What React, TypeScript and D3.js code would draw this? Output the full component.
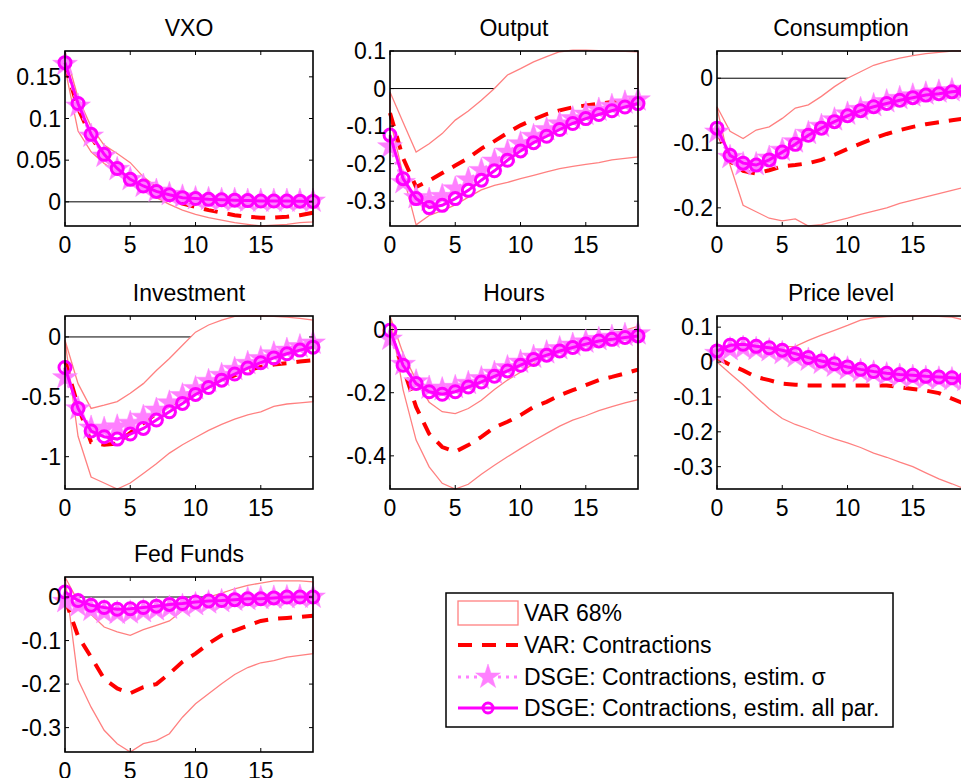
import * as d3 from "d3";

// horizon (quarters after the shock)
const horizon = [0, 1, 2, 3, 4, 5, 6, 7, 8, 9, 10, 11, 12, 13, 14, 15, 16, 17, 18, 19];
const xTicks = [0, 5, 10, 15];

// VXO
const vxoUpper = [0.181, 0.125, 0.09, 0.068, 0.058, 0.047, 0.03, 0.018, 0.01, 0.006, 0.004, 0.003, 0.003, 0.002, 0.002, 0.002, 0.002, 0.002, 0.002, 0.002];
const vxoLower = [0.16, 0.085, 0.06, 0.046, 0.036, 0.025, 0.015, 0.005, -0.003, -0.01, -0.015, -0.019, -0.022, -0.025, -0.027, -0.029, -0.028, -0.027, -0.025, -0.024];
const vxoVar = [0.165, 0.112, 0.078, 0.054, 0.038, 0.026, 0.016, 0.008, 0.002, -0.002, -0.006, -0.01, -0.013, -0.016, -0.018, -0.019, -0.019, -0.018, -0.016, -0.013];
const vxoSigma = [0.165, 0.115, 0.079, 0.055, 0.039, 0.027, 0.019, 0.013, 0.009, 0.006, 0.004, 0.003, 0.002, 0.002, 0.001, 0.001, 0.001, 0.001, 0.001, 0.001];
const vxoAll = [0.167, 0.118, 0.081, 0.057, 0.04, 0.027, 0.019, 0.0125, 0.0085, 0.005, 0.004, 0.003, 0.0025, 0.002, 0.0015, 0.001, 0.001, 0.001, 0.0008, 0.0005];

// Output
const outUpper = [-0.009, -0.09, -0.169, -0.147, -0.12, -0.084, -0.06, -0.031, 0.0, 0.036, 0.053, 0.071, 0.085, 0.098, 0.102, 0.102, 0.101, 0.1, 0.099, 0.098];
const outLower = [-0.08, -0.23, -0.363, -0.338, -0.325, -0.31, -0.289, -0.27, -0.258, -0.25, -0.24, -0.231, -0.222, -0.213, -0.207, -0.202, -0.197, -0.19, -0.186, -0.182];
const outVar = [-0.065, -0.185, -0.262, -0.245, -0.225, -0.205, -0.185, -0.16, -0.14, -0.118, -0.098, -0.082, -0.068, -0.058, -0.05, -0.045, -0.04, -0.036, -0.033, -0.03];
const outSigma = [-0.155, -0.25, -0.29, -0.297, -0.287, -0.267, -0.243, -0.218, -0.193, -0.169, -0.147, -0.127, -0.109, -0.094, -0.08, -0.068, -0.057, -0.047, -0.038, -0.03];
const outAll = [-0.124, -0.24, -0.293, -0.317, -0.311, -0.293, -0.271, -0.244, -0.219, -0.191, -0.166, -0.144, -0.127, -0.109, -0.093, -0.08, -0.069, -0.059, -0.049, -0.04];

// Consumption
const conUpper = [-0.044, -0.082, -0.093, -0.08, -0.075, -0.062, -0.046, -0.041, -0.028, -0.013, 0.0, 0.01, 0.02, 0.026, 0.031, 0.035, 0.038, 0.04, 0.042, 0.042];
const conLower = [-0.046, -0.134, -0.196, -0.206, -0.216, -0.22, -0.217, -0.228, -0.226, -0.221, -0.216, -0.21, -0.205, -0.2, -0.193, -0.188, -0.183, -0.178, -0.173, -0.168];
const conVar = [-0.08, -0.128, -0.143, -0.147, -0.142, -0.136, -0.134, -0.131, -0.126, -0.118, -0.109, -0.101, -0.093, -0.086, -0.08, -0.075, -0.071, -0.068, -0.065, -0.062];
const conSigma = [-0.083, -0.122, -0.133, -0.133, -0.123, -0.111, -0.098, -0.085, -0.074, -0.064, -0.055, -0.048, -0.042, -0.036, -0.031, -0.027, -0.024, -0.021, -0.019, -0.017];
const conAll = [-0.077, -0.119, -0.131, -0.134, -0.126, -0.114, -0.102, -0.088, -0.077, -0.067, -0.058, -0.05, -0.044, -0.039, -0.034, -0.03, -0.026, -0.024, -0.021, -0.019];

// Investment
const invUpper = [-0.028, -0.39, -0.597, -0.57, -0.54, -0.47, -0.39, -0.28, -0.18, -0.07, 0.04, 0.1, 0.14, 0.172, 0.175, 0.175, 0.172, 0.165, 0.155, 0.14];
const invLower = [-0.03, -0.83, -1.17, -1.22, -1.27, -1.22, -1.14, -1.06, -0.97, -0.9, -0.84, -0.78, -0.73, -0.686, -0.65, -0.625, -0.58, -0.56, -0.55, -0.54];
const invVar = [-0.2, -0.58, -0.88, -0.9, -0.89, -0.8, -0.72, -0.64, -0.57, -0.51, -0.46, -0.41, -0.36, -0.32, -0.28, -0.25, -0.23, -0.22, -0.205, -0.195];
const invSigma = [-0.34, -0.6, -0.76, -0.77, -0.75, -0.72, -0.67, -0.61, -0.55, -0.49, -0.43, -0.37, -0.32, -0.27, -0.22, -0.18, -0.14, -0.11, -0.08, -0.05];
const invAll = [-0.255, -0.597, -0.786, -0.833, -0.853, -0.811, -0.764, -0.694, -0.625, -0.555, -0.48, -0.422, -0.361, -0.31, -0.26, -0.215, -0.175, -0.14, -0.11, -0.085];

// Hours
const hrsUpper = [0.043, -0.076, -0.16, -0.23, -0.26, -0.266, -0.25, -0.224, -0.19, -0.16, -0.135, -0.108, -0.085, -0.065, -0.05, -0.036, -0.023, -0.013, -0.002, 0.01];
const hrsLower = [0.043, -0.19, -0.35, -0.435, -0.487, -0.505, -0.49, -0.458, -0.43, -0.403, -0.377, -0.352, -0.329, -0.306, -0.287, -0.273, -0.257, -0.244, -0.232, -0.222];
const hrsVar = [-0.01, -0.12, -0.245, -0.33, -0.372, -0.387, -0.366, -0.34, -0.31, -0.292, -0.271, -0.245, -0.229, -0.208, -0.192, -0.176, -0.16, -0.15, -0.139, -0.127];
const hrsSigma = [-0.03, -0.11, -0.165, -0.185, -0.19, -0.183, -0.17, -0.155, -0.138, -0.12, -0.103, -0.087, -0.073, -0.06, -0.049, -0.039, -0.031, -0.024, -0.018, -0.013];
const hrsAll = [-0.002, -0.113, -0.171, -0.197, -0.205, -0.197, -0.182, -0.166, -0.148, -0.131, -0.113, -0.095, -0.081, -0.068, -0.057, -0.046, -0.036, -0.031, -0.025, -0.02];

// Price level
const priUpper = [0.02, 0.035, 0.042, 0.044, 0.044, 0.044, 0.045, 0.062, 0.077, 0.091, 0.105, 0.12, 0.127, 0.13, 0.132, 0.132, 0.132, 0.131, 0.129, 0.12];
const priLower = [0.0, -0.033, -0.065, -0.1, -0.134, -0.162, -0.179, -0.192, -0.207, -0.22, -0.232, -0.245, -0.261, -0.273, -0.287, -0.3, -0.318, -0.335, -0.349, -0.364];
const priVar = [0.012, -0.008, -0.024, -0.043, -0.052, -0.062, -0.065, -0.067, -0.067, -0.067, -0.067, -0.067, -0.067, -0.067, -0.072, -0.077, -0.082, -0.089, -0.105, -0.12];
const priSigma = [0.025, 0.036, 0.04, 0.037, 0.033, 0.025, 0.016, 0.006, -0.003, -0.011, -0.019, -0.026, -0.031, -0.036, -0.04, -0.043, -0.046, -0.048, -0.05, -0.052];
const priAll = [0.032, 0.048, 0.051, 0.045, 0.041, 0.034, 0.024, 0.013, 0.003, -0.005, -0.014, -0.021, -0.027, -0.032, -0.036, -0.038, -0.041, -0.043, -0.045, -0.048];

// Fed Funds
const ffUpper = [0.046, -0.01, -0.04, -0.069, -0.08, -0.088, -0.075, -0.065, -0.055, -0.031, -0.012, 0.0, 0.009, 0.019, 0.027, 0.032, 0.037, 0.037, 0.037, 0.035];
const ffLower = [0.046, -0.19, -0.253, -0.306, -0.337, -0.356, -0.337, -0.33, -0.314, -0.276, -0.245, -0.222, -0.199, -0.178, -0.162, -0.151, -0.146, -0.138, -0.134, -0.13];
const ffVar = [-0.005, -0.09, -0.138, -0.188, -0.21, -0.221, -0.207, -0.2, -0.176, -0.149, -0.13, -0.107, -0.088, -0.077, -0.066, -0.055, -0.05, -0.048, -0.046, -0.043];
const ffSigma = [-0.01, -0.02, -0.03, -0.035, -0.037, -0.036, -0.033, -0.029, -0.025, -0.021, -0.017, -0.013, -0.01, -0.007, -0.005, -0.003, -0.002, -0.001, 0, 0];
const ffAll = [0.0115, -0.008, -0.019, -0.024, -0.028, -0.027, -0.024, -0.021, -0.017, -0.015, -0.0115, -0.009, -0.008, -0.006, -0.004, -0.004, -0.002, 0, 0, 0];

const legendLabels = [
  "VAR 68%",
  "VAR: Contractions",
  "DSGE: Contractions, estim. σ",
  "DSGE: Contractions, estim. all par.",
];

const panels = [
  { title: "VXO", upper: vxoUpper, lower: vxoLower, med: vxoVar, sigma: vxoSigma, all: vxoAll, yDomain: [-0.029, 0.181], yTicks: [0, 0.05, 0.1, 0.15], col: 0, row: 0 },
  { title: "Output", upper: outUpper, lower: outLower, med: outVar, sigma: outSigma, all: outAll, yDomain: [-0.366, 0.1], yTicks: [-0.3, -0.2, -0.1, 0, 0.1], col: 1, row: 0 },
  { title: "Consumption", upper: conUpper, lower: conLower, med: conVar, sigma: conSigma, all: conAll, yDomain: [-0.228, 0.042], yTicks: [-0.2, -0.1, 0], col: 2, row: 0 },
  { title: "Investment", upper: invUpper, lower: invLower, med: invVar, sigma: invSigma, all: invAll, yDomain: [-1.27, 0.175], yTicks: [-1, -0.5, 0], col: 0, row: 1 },
  { title: "Hours", upper: hrsUpper, lower: hrsLower, med: hrsVar, sigma: hrsSigma, all: hrsAll, yDomain: [-0.505, 0.043], yTicks: [-0.4, -0.2, 0], col: 1, row: 1 },
  { title: "Price level", upper: priUpper, lower: priLower, med: priVar, sigma: priSigma, all: priAll, yDomain: [-0.364, 0.132], yTicks: [-0.3, -0.2, -0.1, 0, 0.1], col: 2, row: 1 },
  { title: "Fed Funds", upper: ffUpper, lower: ffLower, med: ffVar, sigma: ffSigma, all: ffAll, yDomain: [-0.356, 0.046], yTicks: [-0.3, -0.2, -0.1, 0], col: 0, row: 2 },
];

const WIDTH = 961;
const HEIGHT = 778;
const colLeft = [65, 390, 717];
const colWidth = 248;
const rowTop = [51, 316, 577];
const rowHeight = [175, 173, 175];
const FONT = "'Liberation Sans', Arial, Helvetica, sans-serif";
const FS = 23;

const BAND = "#ff8080";
const RED = "#ff0000";
const PINK = "#ff80ff";
const MAGENTA = "#ff00ff";

// pentagram marker, outer radius about 13px
const starPath = d3.symbol().type(d3.symbolStar).size(190)()!;

function Panel({ p }: { p: (typeof panels)[number] }) {
  const left = colLeft[p.col];
  const top = rowTop[p.row];
  const h = rowHeight[p.row];
  const x = d3.scaleLinear().domain([0, 19]).range([left, left + colWidth]);
  const y = d3.scaleLinear().domain(p.yDomain).range([top + h, top]);

  const line = d3
    .line<number>()
    .x((_, i) => x(horizon[i]))
    .y((d) => y(d));

  const bandPts: [number, number][] = [
    ...horizon.map((t, i) => [x(t), y(p.upper[i])] as [number, number]),
    ...horizon
      .slice()
      .reverse()
      .map((t) => [x(t), y(p.lower[t])] as [number, number]),
  ];
  const band = d3.line()(bandPts) + "Z";

  return (
    <g>
      <text
        x={left + colWidth / 2}
        y={top - 15}
        textAnchor="middle"
        fontFamily={FONT}
        fontSize={FS}
      >
        {p.title}
      </text>
      {/* zero line */}
      <line x1={x(0)} x2={x(19)} y1={y(0)} y2={y(0)} stroke="#000" strokeWidth={1} />
      {/* VAR 68% band */}
      <path d={band} fill="#fff" stroke={BAND} strokeWidth={1.3} />
      {/* VAR median */}
      <path d={line(p.med)!} fill="none" stroke={RED} strokeWidth={4} strokeDasharray="14 10" />
      {/* DSGE sigma */}
      <path d={line(p.sigma)!} fill="none" stroke={PINK} strokeWidth={3} strokeDasharray="3 5" />
      {p.sigma.map((v, i) => (
        <path key={"s" + i} d={starPath} transform={`translate(${x(horizon[i])},${y(v)})`} fill={PINK} stroke={PINK} strokeWidth={0.5} />
      ))}
      {/* DSGE all parameters */}
      <path d={line(p.all)!} fill="none" stroke={MAGENTA} strokeWidth={3} />
      {p.all.map((v, i) => (
        <circle key={"c" + i} cx={x(horizon[i])} cy={y(v)} r={6} fill="none" stroke={MAGENTA} strokeWidth={3} />
      ))}
      {/* axes box and ticks */}
      <rect x={left} y={top} width={colWidth} height={h} fill="none" stroke="#000" strokeWidth={1.6} />
      {xTicks.map((t) => (
        <g key={"xt" + t}>
          <line x1={x(t)} x2={x(t)} y1={top + h} y2={top + h - 4} stroke="#000" />
          <line x1={x(t)} x2={x(t)} y1={top} y2={top + 4} stroke="#000" />
          <text x={x(t)} y={top + h + 27} textAnchor="middle" fontFamily={FONT} fontSize={FS}>
            {t}
          </text>
        </g>
      ))}
      {p.yTicks.map((t) => (
        <g key={"yt" + t}>
          <line x1={left} x2={left + 4} y1={y(t)} y2={y(t)} stroke="#000" />
          <line x1={left + colWidth} x2={left + colWidth - 4} y1={y(t)} y2={y(t)} stroke="#000" />
          <text x={left - 4} y={y(t) + 8} textAnchor="end" fontFamily={FONT} fontSize={FS}>
            {String(t)}
          </text>
        </g>
      ))}
    </g>
  );
}

function Legend() {
  const bx = 446;
  const by = 593;
  const rows = [613, 645, 677, 708];
  const s0 = 458;
  const s1 = 518;
  const tx = 524;
  return (
    <g>
      <rect x={bx} y={by} width={447} height={134} fill="#fff" stroke="#000" strokeWidth={1.5} />
      <rect x={s0} y={rows[0] - 12} width={s1 - s0} height={24} fill="#fff" stroke={BAND} strokeWidth={1.3} />
      <line x1={s0} x2={s1} y1={rows[1]} y2={rows[1]} stroke={RED} strokeWidth={4} strokeDasharray="14 10" />
      <line x1={s0} x2={s1} y1={rows[2]} y2={rows[2]} stroke={PINK} strokeWidth={3} strokeDasharray="3 5" />
      <path d={starPath} transform={`translate(${(s0 + s1) / 2},${rows[2]})`} fill={PINK} stroke={PINK} strokeWidth={0.5} />
      <line x1={s0} x2={s1} y1={rows[3]} y2={rows[3]} stroke={MAGENTA} strokeWidth={3} />
      <circle cx={(s0 + s1) / 2} cy={rows[3]} r={5} fill="none" stroke={MAGENTA} strokeWidth={3} />
      {legendLabels.map((l, i) => (
        <text key={l} x={tx} y={rows[i] + 8} fontFamily={FONT} fontSize={FS}>
          {l}
        </text>
      ))}
    </g>
  );
}

export default function App() {
  return (
    <svg
      width={WIDTH}
      height={HEIGHT}
      style={{ position: "absolute", left: 0, top: 0, background: "#fff" }}
    >
      <rect width={WIDTH} height={HEIGHT} fill="#fff" />
      {panels.map((p) => (
        <Panel key={p.title} p={p} />
      ))}
      <Legend />
    </svg>
  );
}
